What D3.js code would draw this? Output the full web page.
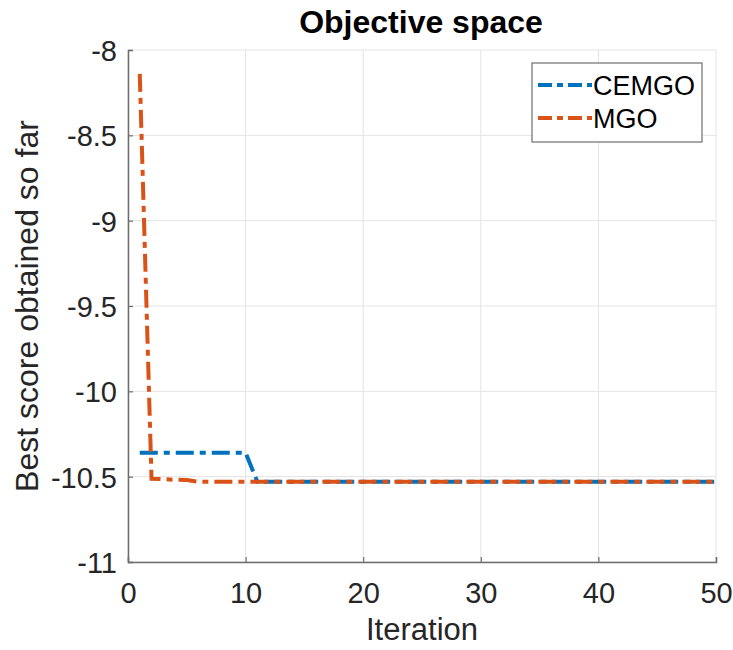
<!DOCTYPE html>
<html>
<head>
<meta charset="utf-8">
<script src="https://cdn.jsdelivr.net/npm/d3@7"></script>
<style>
  body { margin: 0; background: #fff; }
  svg text { font-family: "Liberation Sans", Arial, sans-serif; }
</style>
</head>
<body>
<svg id="chart" width="733" height="650"></svg>
<script>
// data
var iterations = d3.range(1, 51);
var cemgo = [-10.36, -10.36, -10.36, -10.36, -10.36, -10.36, -10.36, -10.36, -10.36, -10.36]
    .concat(d3.range(11, 51).map(function(){ return -10.53; }));
var mgo = [-8.14, -10.512, -10.515, -10.518, -10.52]
    .concat(d3.range(6, 51).map(function(){ return -10.53; }));
var seriesNames = ['CEMGO', 'MGO'];
var seriesColors = ['#0072BD', '#D95319'];
var xTicks = [0, 10, 20, 30, 40, 50];
var yTicks = [-11, -10.5, -10, -9.5, -9, -8.5, -8];

var margin = {left: 128, right: 733 - 716, top: 50, bottom: 650 - 562};
var W = 733, H = 650;

var svg = d3.select('#chart');

var x = d3.scaleLinear().domain([0, 50]).range([margin.left, W - margin.right]);
var y = d3.scaleLinear().domain([-11, -8]).range([H - margin.bottom, margin.top]);

// grid
var grid = svg.append('g').attr('class', 'grid');
grid.selectAll('line.gx').data(xTicks).enter().append('line')
    .attr('x1', d => x(d)).attr('x2', d => x(d))
    .attr('y1', y(-11)).attr('y2', y(-8))
    .attr('stroke', '#e3e3e3').attr('stroke-width', 1);
grid.selectAll('line.gy').data(yTicks).enter().append('line')
    .attr('x1', x(0)).attr('x2', x(50))
    .attr('y1', d => y(d)).attr('y2', d => y(d))
    .attr('stroke', '#e3e3e3').attr('stroke-width', 1);

// axes (MATLAB style: inward ticks)
var xAxis = d3.axisBottom(x).tickValues(xTicks).tickSize(-5).tickPadding(20)
    .tickFormat(d3.format('d'));
var yAxis = d3.axisLeft(y).tickValues(yTicks).tickSize(-5).tickPadding(11)
    .tickFormat(function(d){ return String(d); });

var gx = svg.append('g').attr('transform', 'translate(0,' + y(-11) + ')').call(xAxis);
var gy = svg.append('g').attr('transform', 'translate(' + x(0) + ',0)').call(yAxis);
[gx, gy].forEach(function(g){
    g.select('.domain').attr('stroke', '#6e6e6e').attr('stroke-width', 1.5);
    g.selectAll('.tick line').attr('stroke', '#6e6e6e').attr('stroke-width', 1.2);
    g.selectAll('.tick text').attr('fill', '#262626').attr('font-size', '29px');
});
gx.selectAll('.tick text').attr('dy', '0.71em');
gy.selectAll('.tick text').attr('dy', '0.36em');

// lines (MGO drawn last, on top)
var line = d3.line().x(d => x(d[0])).y(d => y(d[1]));
var allSeries = [cemgo, mgo];
var dash = '18,6,6,6';

svg.append('g').selectAll('path').data([0, 1]).enter().append('path')
    .attr('d', function(i){ return line(iterations.map(function(it, k){ return [it, allSeries[i][k]]; })); })
    .attr('fill', 'none')
    .attr('stroke', i => seriesColors[i])
    .attr('stroke-width', 4)
    .attr('stroke-dasharray', dash);

// title and labels
svg.append('text').attr('x', 421).attr('y', 33)
    .attr('text-anchor', 'middle').attr('font-size', '32px').attr('font-weight', 'bold')
    .attr('fill', '#000').text('Objective space');
svg.append('text').attr('x', 422).attr('y', 640)
    .attr('text-anchor', 'middle').attr('font-size', '31px')
    .attr('fill', '#262626').text('Iteration');
svg.append('text')
    .attr('transform', 'translate(38,' + y(-9.5) + ') rotate(-90)')
    .attr('text-anchor', 'middle').attr('font-size', '32px')
    .attr('fill', '#262626').text('Best score obtained so far');

// legend
var leg = svg.append('g').attr('transform', 'translate(532,63)');
leg.append('rect').attr('width', 170).attr('height', 79)
    .attr('fill', '#fff').attr('stroke', '#6e6e6e').attr('stroke-width', 1.2);
var items = leg.selectAll('g.item').data(seriesNames).enter().append('g')
    .attr('transform', (d, i) => 'translate(0,' + (22 + i * 33) + ')');
items.append('line').attr('x1', 6).attr('x2', 60).attr('y1', 0).attr('y2', 0)
    .attr('stroke', (d, i) => seriesColors[i]).attr('stroke-width', 4)
    .attr('stroke-dasharray', '14,5,6,5');
items.append('text').attr('x', 61).attr('y', 0).attr('dy', '0.36em')
    .attr('font-size', '27px').attr('fill', '#000').text(d => d);
</script>
</body>
</html>
